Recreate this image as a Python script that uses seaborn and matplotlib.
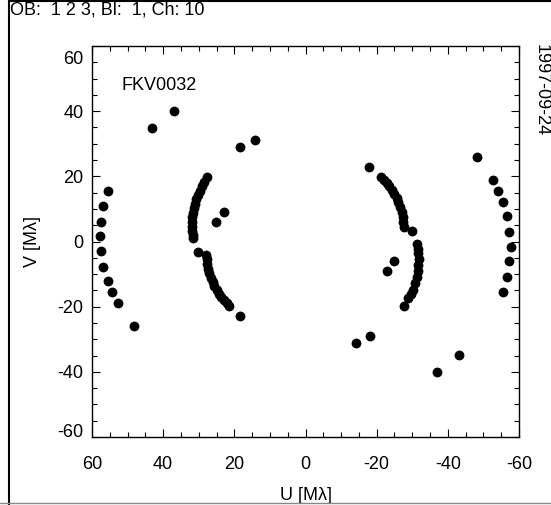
import matplotlib
matplotlib.use("Agg")
import matplotlib.pyplot as plt
from matplotlib.lines import Line2D
from matplotlib.ticker import MultipleLocator
import matplotlib.transforms as mtransforms
import seaborn as sns
import pandas as pd

# ---- data (U, V in Mλ) ----
u_outer_left = [55.4, 56.8, 57.6, 57.8, 57.6, 56.8, 55.4, 54.3, 52.8, 48.2]
v_outer_left = [15.6, 10.8, 5.9, 1.8, -2.9, -7.7, -12.2, -15.5, -18.8, -25.9]
u_outer_right = [-48.1, -52.6, -54.2, -55.4, -56.7, -57.3, -57.7, -57.3, -56.7, -55.4]
v_outer_right = [26.0, 18.9, 15.6, 12.2, 7.8, 2.8, -1.8, -5.9, -10.8, -15.4]
u_inner_left = [27.8, 28.5, 29.1, 29.7, 30.2, 30.7, 31.1, 31.4, 31.7, 31.9, 32.0, 32.0, 31.9, 31.7, 31.5,
                30.1, 28.0, 27.8, 27.6, 27.3, 27.0, 26.6, 26.1, 25.6, 25.0, 24.4, 23.7, 23.0, 22.2, 21.4]
v_inner_left = [19.9, 18.3, 17.0, 15.6, 14.3, 12.9, 11.5, 10.2, 8.8, 7.4, 6.0, 4.6, 3.3, 2.0, 1.0,
                -3.3, -4.0, -5.5, -6.9, -8.3, -9.7, -11.1, -12.4, -13.7, -14.9, -16.0, -17.1, -18.1, -19.0, -19.8]
u_inner_right = [-21.1, -22.0, -22.8, -23.5, -24.2, -24.9, -25.6, -26.1, -26.6, -27.0, -27.3, -27.5, -27.7, -29.9,
                 -31.3, -31.6, -31.7, -31.8, -31.7, -31.5, -31.3, -30.9, -30.3, -29.6, -28.9, -27.7]
v_inner_right = [19.9, 19.0, 17.9, 16.9, 15.8, 14.6, 13.3, 12.0, 10.7, 9.2, 7.6, 6.1, 4.5, 3.3,
                 -0.8, -2.2, -3.6, -5.4, -7.2, -9.0, -10.8, -12.8, -14.9, -16.2, -17.4, -19.8]
u_isolated = [43.2, 37.0, 18.3, 14.1, 25.2, 22.9, 18.3, -17.9, -25.0, -22.8, -14.1, -18.1, -43.2, -36.9]
v_isolated = [34.9, 40.1, 28.9, 31.1, 6.1, 9.1, -22.8, 22.8, -6.1, -9.2, -31.0, -28.9, -34.8, -40.2]

title_text = "OB:  1 2 3, Bl:  1, Ch: 10"
date_text = "1997-09-24"
source_name = "FKV0032"
ticks = [60, 40, 20, 0, -20, -40, -60]

u = u_outer_left + u_outer_right + u_inner_left + u_inner_right + u_isolated
v = v_outer_left + v_outer_right + v_inner_left + v_inner_right + v_isolated
df = pd.DataFrame({"U": u, "V": v})

sns.set_style("ticks")
plt.rcParams["font.family"] = ["Liberation Sans", "DejaVu Sans"]
plt.rcParams["axes.unicode_minus"] = False

FS = 13
W, H = 551, 505
fig = plt.figure(figsize=(W / 100, H / 100), dpi=100)
ax = fig.add_axes([92 / W, 1 - 437 / H, (519 - 92) / W, (437 - 46) / H])

sns.scatterplot(data=df, x="U", y="V", ax=ax, color="black", s=50,
                edgecolor="black", linewidth=0, legend=False)

ax.set_xlim(60, -60)
ax.set_ylim(-60, 60)
ax.set_xticks(ticks)
ax.set_yticks(ticks)
ax.xaxis.set_minor_locator(MultipleLocator(5))
ax.yaxis.set_minor_locator(MultipleLocator(5))
ax.tick_params(which="both", direction="in", top=True, right=True,
               color="black", width=0.8, labelsize=FS, labelcolor="black")
ax.tick_params(which="major", length=5.5)
ax.tick_params(which="minor", length=3.3)
ax.tick_params(axis="x", which="major", pad=14)
ax.tick_params(axis="y", which="major", pad=6)
for sp in ax.spines.values():
    sp.set_color("black")
    sp.set_linewidth(1.0)
    sp.set_visible(True)

ax.set_xlabel("U [Mλ]", fontsize=FS, color="black", labelpad=10)
ax.set_ylabel("V [Mλ]", fontsize=FS, color="black", labelpad=12)

# end labels of the V axis sit just inside the frame
ylabels = ax.get_yticklabels()
top_lab = [t for t in ylabels if t.get_text() == "60"][0]
bot_lab = [t for t in ylabels if t.get_text() == "-60"][0]
top_lab.set_transform(top_lab.get_transform() +
                      mtransforms.ScaledTranslation(0, -8 / 72, fig.dpi_scale_trans))
bot_lab.set_transform(bot_lab.get_transform() +
                      mtransforms.ScaledTranslation(0, 4.5 / 72, fig.dpi_scale_trans))

ax.text(51.8, 48, source_name, fontsize=FS, ha="left", va="center", color="black")

fig.text(10 / W, 1 - 10 / H, title_text, fontsize=FS, ha="left", va="center", color="black")
fig.text(541 / W, 1 - 90 / H, date_text, fontsize=FS, ha="center", va="center",
         rotation=-90, color="black")

# figure frame lines
fig.add_artist(Line2D([8.5 / W, 8.5 / W], [0, 1 - 1 / H], transform=fig.transFigure,
                      color="black", linewidth=1.5))
fig.add_artist(Line2D([8.5 / W, 1], [1 - 1 / H, 1 - 1 / H], transform=fig.transFigure,
                      color="black", linewidth=1.5))
fig.add_artist(Line2D([0, 1], [1 - 503 / H, 1 - 503 / H], transform=fig.transFigure,
                      color="#888888", linewidth=1.0))

fig.savefig("out.png", dpi=100)
